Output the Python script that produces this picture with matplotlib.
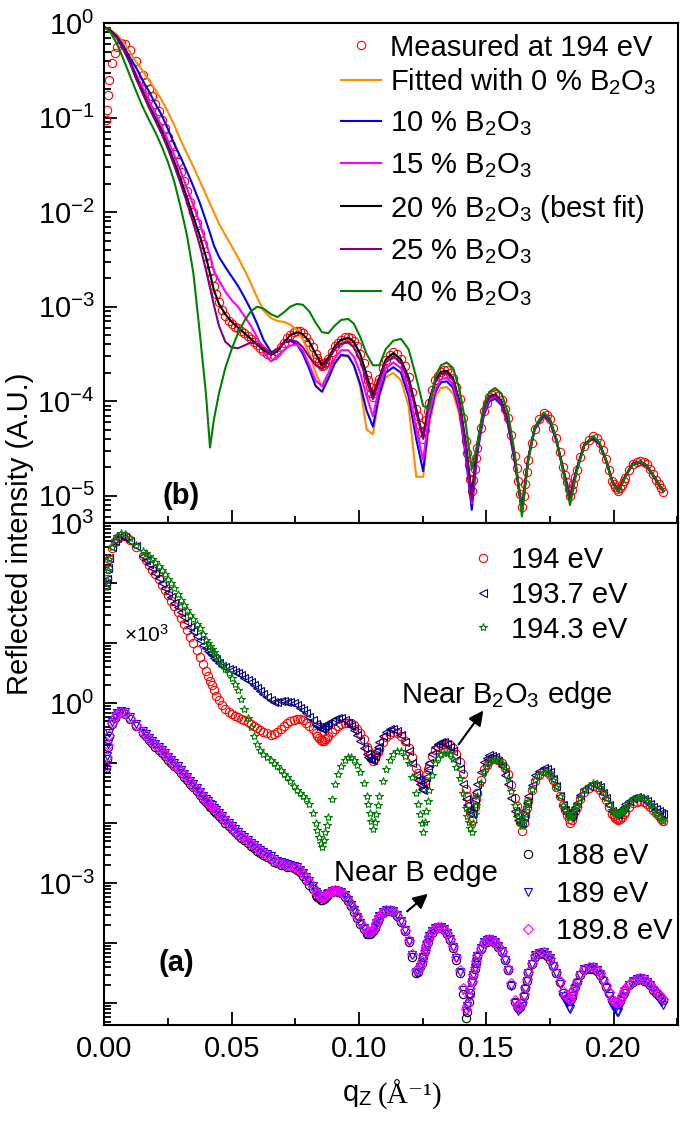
import numpy as np
import matplotlib
matplotlib.use("Agg")
import matplotlib.pyplot as plt
from matplotlib.ticker import LogLocator, FuncFormatter, NullFormatter, MultipleLocator

plt.rcParams["font.family"] = ["Liberation Sans", "DejaVu Sans"]
plt.rcParams["mathtext.fontset"] = "custom"
plt.rcParams["mathtext.rm"] = "Liberation Sans"
plt.rcParams["mathtext.it"] = "Liberation Sans:italic"
plt.rcParams["mathtext.bf"] = "Liberation Sans:bold"

# ---------------------------------------------------------------------------
# Data: q_z (1/Angstrom) and log10 of reflected intensity
# ---------------------------------------------------------------------------
q_fit_head = [0.0, 0.0025, 0.005, 0.0075, 0.01, 0.0125]
q_meas_head = [0.0005, 0.001, 0.0015, 0.002, 0.003, 0.004, 0.005, 0.0065, 0.008, 0.01, 0.0125]
q_tail = [
    0.015, 0.0175, 0.02, 0.0225, 0.025, 0.0275, 0.03, 0.0325, 0.035, 0.0375,
    0.04, 0.0415, 0.043, 0.045, 0.0475, 0.05, 0.0525, 0.055, 0.0575, 0.06,
    0.0625, 0.0655, 0.068, 0.0705, 0.073, 0.0757, 0.078, 0.0805, 0.083, 0.0855,
    0.088, 0.0905, 0.093, 0.0958, 0.098, 0.1005, 0.103, 0.1055, 0.108, 0.1105,
    0.1135, 0.1165, 0.1195, 0.1225, 0.1252, 0.1275, 0.13, 0.1322, 0.1345, 0.137,
    0.1395, 0.142, 0.1443, 0.1465, 0.149, 0.1512, 0.1535, 0.156, 0.1585, 0.1612,
    0.164, 0.1665, 0.169, 0.1725, 0.175, 0.1775, 0.1802, 0.1829, 0.1855, 0.1885,
    0.192, 0.1945, 0.197, 0.1995, 0.2019, 0.2045, 0.2075, 0.2105, 0.213, 0.2155,
    0.2178, 0.2196,
]
# extra sampling positions of the measured scans (between the q_tail points)
q_mid = [
    0.0163, 0.0188, 0.0213, 0.0238, 0.0263, 0.0288, 0.0313, 0.0338, 0.0363, 0.0388,
    0.0408, 0.0423, 0.044, 0.0463, 0.0488, 0.0513, 0.0538, 0.0563, 0.0588, 0.0613,
    0.064, 0.0668, 0.0693, 0.0718, 0.0744, 0.0769, 0.0793, 0.0818, 0.0843, 0.0868,
    0.0893, 0.0918, 0.0944, 0.0969, 0.0993, 0.1018, 0.1043, 0.1068, 0.1093, 0.112,
    0.115, 0.118, 0.121, 0.1239, 0.1264, 0.1288, 0.1311, 0.1334, 0.1358, 0.1383,
    0.1408, 0.1432, 0.1454, 0.1478, 0.1501, 0.1524, 0.1548, 0.1573, 0.1599, 0.1626,
    0.1653, 0.1678, 0.1708, 0.1738, 0.1763, 0.1789, 0.1816, 0.1842, 0.187, 0.1903,
    0.1933, 0.1958, 0.1983, 0.2007, 0.2032, 0.206, 0.209, 0.2118, 0.2143, 0.2167,
    0.2187,
]
# still finer sampling on the flanks of the Kiessig minima
q_flank = [
    0.0837, 0.0849, 0.0862, 0.0874,
    0.1037, 0.1049, 0.1062, 0.1074,
    0.1232, 0.1246, 0.1258, 0.1270,
    0.1426, 0.1438, 0.1449, 0.1460,
    0.1619, 0.1633, 0.1647, 0.1659,
    0.1809, 0.1823, 0.1836, 0.1849,
    0.2001, 0.2013, 0.2026, 0.2039,
]
q_fit = q_fit_head + q_tail
q_meas = q_meas_head + q_tail

# panel (b): measured at 194 eV (also shown x10^3 in panel (a))
meas_194 = [
    -1.02, -0.92, -0.76, -0.60, -0.42, -0.31, -0.25, -0.21, -0.22, -0.28, -0.40,
    -0.55, -0.70, -0.85, -1.02, -1.20, -1.38, -1.57, -1.78, -2.00, -2.22,
    -2.46, -2.62, -2.78, -2.95, -3.10, -3.18, -3.23, -3.28, -3.34, -3.41,
    -3.47, -3.52, -3.48, -3.38, -3.30, -3.26, -3.28, -3.37, -3.50, -3.63,
    -3.55, -3.42, -3.35, -3.32, -3.36, -3.50, -3.72, -3.96, -3.76, -3.56,
    -3.48, -3.55, -3.74, -4.08, -4.40, -4.02, -3.78, -3.69, -3.67, -3.75,
    -3.98, -4.42, -4.95, -4.50, -4.10, -3.96, -3.92, -3.99, -4.18, -4.58,
    -5.12, -4.62, -4.29, -4.13, -4.19, -4.39, -4.70, -5.00, -4.73, -4.47,
    -4.37, -4.44, -4.61, -4.84, -4.95, -4.81, -4.66, -4.63, -4.67, -4.77,
    -4.88, -4.96,
]
meas_194_mid = [
    -0.62, -0.77, -0.93, -1.11, -1.29, -1.47, -1.67, -1.89, -2.11, -2.34,
    -2.54, -2.70, -2.87, -3.03, -3.15, -3.21, -3.26, -3.31, -3.37, -3.44,
    -3.50, -3.51, -3.43, -3.33, -3.27, -3.26, -3.32, -3.43, -3.58, -3.60,
    -3.48, -3.38, -3.32, -3.33, -3.42, -3.60, -3.85, -3.86, -3.65, -3.51,
    -3.50, -3.63, -3.90, -4.25, -4.20, -3.88, -3.73, -3.67, -3.70, -3.85,
    -4.18, -4.68, -4.72, -4.28, -4.02, -3.93, -3.94, -4.08, -4.36, -4.85,
    -4.88, -4.44, -4.19, -4.15, -4.28, -4.54, -4.86, -4.88, -4.59, -4.41,
    -4.39, -4.52, -4.73, -4.91, -4.89, -4.73, -4.64, -4.64, -4.72, -4.83,
    -4.92,
]
meas_194_flank = [
    -3.54, -3.61, -3.62, -3.58,
    -3.78, -3.91, -3.91, -3.81,
    -4.16, -4.33, -4.30, -4.10,
    -4.55, -4.82, -4.83, -4.60,
    -4.71, -4.98, -5.00, -4.75,
    -4.78, -4.93, -4.94, -4.80,
    -4.88, -4.93, -4.92, -4.85,
]
fit_0 = [
    -0.04, -0.07, -0.12, -0.20, -0.30, -0.41,
    -0.50, -0.60, -0.70, -0.81, -0.94, -1.08, -1.24, -1.38, -1.52, -1.67,
    -1.82, -1.91, -2.00, -2.12, -2.24, -2.36, -2.48, -2.61, -2.75, -2.90,
    -3.04, -3.12, -3.15, -3.16, -3.19, -3.25, -3.35, -3.50, -3.70, -3.85,
    -3.72, -3.58, -3.52, -3.53, -3.62, -3.85, -4.30, -4.35, -3.95, -3.75,
    -3.70, -3.78, -4.05, -4.80, -4.80, -4.25, -3.95, -3.86, -3.85, -3.92,
    -4.15, -4.55, -5.00, -4.50, -4.15, -4.00, -3.98, -4.05, -4.25, -4.62,
    -5.10, -4.60, -4.30, -4.17, -4.22, -4.42, -4.72, -5.00, -4.72, -4.47,
    -4.39, -4.46, -4.63, -4.85, -4.94, -4.80, -4.67, -4.65, -4.69, -4.79,
    -4.89, -4.95,
]
fit_10 = [
    -0.04, -0.08, -0.14, -0.24, -0.36, -0.47,
    -0.60, -0.72, -0.85, -0.97, -1.12, -1.28, -1.42, -1.57, -1.73, -1.90,
    -2.10, -2.22, -2.35, -2.47, -2.58, -2.68, -2.78, -2.90, -3.03, -3.18,
    -3.35, -3.48, -3.46, -3.38, -3.36, -3.40, -3.50, -3.66, -3.84, -3.90,
    -3.76, -3.60, -3.51, -3.52, -3.62, -3.82, -4.10, -4.27, -3.93, -3.70,
    -3.64, -3.70, -3.95, -4.40, -4.74, -4.20, -3.90, -3.80, -3.79, -3.86,
    -4.10, -4.60, -5.15, -4.55, -4.15, -4.00, -3.97, -4.04, -4.24, -4.65,
    -5.15, -4.62, -4.30, -4.16, -4.22, -4.42, -4.73, -5.02, -4.73, -4.47,
    -4.39, -4.46, -4.63, -4.85, -4.95, -4.80, -4.67, -4.65, -4.69, -4.79,
    -4.89, -4.95,
]
fit_15 = [
    -0.04, -0.08, -0.15, -0.26, -0.39, -0.54,
    -0.68, -0.82, -0.95, -1.09, -1.24, -1.40, -1.57, -1.75, -1.93, -2.12,
    -2.33, -2.46, -2.62, -2.72, -2.84, -2.93, -3.00, -3.10, -3.20, -3.32,
    -3.48, -3.58, -3.52, -3.46, -3.41, -3.40, -3.47, -3.62, -3.78, -3.84,
    -3.70, -3.55, -3.46, -3.46, -3.53, -3.70, -3.95, -4.16, -3.85, -3.65,
    -3.59, -3.65, -3.88, -4.30, -4.62, -4.15, -3.87, -3.77, -3.75, -3.83,
    -4.07, -4.55, -5.08, -4.50, -4.12, -3.98, -3.95, -4.02, -4.22, -4.62,
    -5.12, -4.61, -4.29, -4.15, -4.21, -4.41, -4.72, -5.00, -4.72, -4.46,
    -4.38, -4.45, -4.62, -4.85, -4.94, -4.80, -4.66, -4.64, -4.68, -4.78,
    -4.88, -4.95,
]
fit_20 = [
    -0.04, -0.08, -0.15, -0.27, -0.40, -0.57,
    -0.72, -0.87, -1.00, -1.14, -1.30, -1.47, -1.65, -1.85, -2.05, -2.25,
    -2.48, -2.65, -2.82, -2.97, -3.08, -3.16, -3.22, -3.28, -3.34, -3.40,
    -3.46, -3.51, -3.47, -3.38, -3.30, -3.27, -3.29, -3.37, -3.50, -3.62,
    -3.54, -3.42, -3.35, -3.33, -3.37, -3.50, -3.72, -3.95, -3.75, -3.56,
    -3.49, -3.56, -3.75, -4.08, -4.39, -4.00, -3.78, -3.69, -3.68, -3.76,
    -4.00, -4.45, -4.99, -4.45, -4.08, -3.95, -3.93, -4.00, -4.20, -4.60,
    -5.17, -4.60, -4.28, -4.14, -4.20, -4.40, -4.72, -5.03, -4.72, -4.46,
    -4.38, -4.45, -4.62, -4.85, -4.95, -4.80, -4.66, -4.64, -4.68, -4.78,
    -4.88, -4.95,
]
fit_25 = [
    -0.04, -0.09, -0.16, -0.28, -0.42, -0.59,
    -0.74, -0.89, -1.03, -1.17, -1.33, -1.51, -1.70, -1.90, -2.12, -2.35,
    -2.62, -2.80, -2.98, -3.20, -3.37, -3.43, -3.44, -3.41, -3.38, -3.39,
    -3.44, -3.50, -3.45, -3.38, -3.35, -3.37, -3.43, -3.53, -3.62, -3.66,
    -3.57, -3.45, -3.39, -3.38, -3.43, -3.57, -3.78, -3.98, -3.78, -3.59,
    -3.53, -3.59, -3.79, -4.12, -4.40, -4.02, -3.80, -3.71, -3.70, -3.78,
    -4.02, -4.48, -5.05, -4.47, -4.09, -3.96, -3.94, -4.01, -4.21, -4.61,
    -5.15, -4.60, -4.28, -4.14, -4.20, -4.40, -4.72, -5.02, -4.72, -4.46,
    -4.38, -4.45, -4.62, -4.85, -4.95, -4.80, -4.66, -4.64, -4.68, -4.78,
    -4.88, -4.95,
]
fit_40 = [
    -0.04, -0.10, -0.22, -0.38, -0.55, -0.72,
    -0.88, -1.02, -1.15, -1.30, -1.47, -1.68, -1.95, -2.25, -2.65, -3.28,
    -3.95, -4.49, -4.20, -3.92, -3.65, -3.45, -3.28, -3.15, -3.05, -3.00,
    -3.02, -3.08, -3.11, -3.06, -3.00, -2.97, -2.98, -3.05, -3.17, -3.27,
    -3.28, -3.20, -3.14, -3.13, -3.18, -3.32, -3.50, -3.62, -3.62, -3.45,
    -3.36, -3.34, -3.45, -3.75, -4.05, -4.08, -3.75, -3.62, -3.59, -3.65,
    -3.88, -4.25, -4.72, -4.45, -4.05, -3.90, -3.86, -3.92, -4.12, -4.55,
    -5.22, -4.62, -4.28, -4.12, -4.18, -4.40, -4.75, -5.10, -4.75, -4.47,
    -4.37, -4.44, -4.62, -4.86, -4.96, -4.81, -4.67, -4.64, -4.68, -4.78,
    -4.88, -4.95,
]

# panel (a), near the B2O3 edge (plotted x10^3)
meas_1937 = [
    -1.00, -0.92, -0.75, -0.58, -0.40, -0.30, -0.25, -0.21, -0.23, -0.29, -0.38,
    -0.55, -0.68, -0.83, -0.99, -1.15, -1.32, -1.48, -1.65, -1.80, -1.95,
    -2.08, -2.16, -2.24, -2.33, -2.40, -2.45, -2.50, -2.57, -2.65, -2.74,
    -2.85, -2.95, -2.97, -2.96, -2.98, -3.03, -3.11, -3.22, -3.35, -3.42,
    -3.33, -3.26, -3.25, -3.32, -3.45, -3.63, -3.85, -3.94, -3.65, -3.47,
    -3.42, -3.52, -3.80, -4.20, -4.45, -4.00, -3.72, -3.64, -3.67, -3.80,
    -4.10, -4.60, -4.85, -4.35, -3.98, -3.86, -3.90, -4.05, -4.35, -4.80,
    -5.00, -4.55, -4.20, -4.07, -4.15, -4.38, -4.70, -4.90, -4.66, -4.42,
    -4.34, -4.40, -4.58, -4.80, -4.84, -4.68, -4.57, -4.57, -4.62, -4.72,
    -4.80, -4.84,
]
meas_1937_mid = [
    -0.61, -0.75, -0.91, -1.07, -1.23, -1.40, -1.56, -1.72, -1.87, -2.02,
    -2.12, -2.20, -2.28, -2.37, -2.43, -2.47, -2.53, -2.61, -2.69, -2.79,
    -2.90, -2.97, -2.96, -2.97, -3.00, -3.07, -3.16, -3.28, -3.40, -3.38,
    -3.29, -3.25, -3.28, -3.38, -3.53, -3.74, -3.92, -3.80, -3.54, -3.43,
    -3.46, -3.65, -4.00, -4.35, -4.22, -3.84, -3.67, -3.64, -3.72, -3.94,
    -4.35, -4.78, -4.60, -4.15, -3.91, -3.87, -3.96, -4.19, -4.58, -4.95,
    -4.78, -4.36, -4.12, -4.10, -4.26, -4.54, -4.83, -4.80, -4.53, -4.37,
    -4.36, -4.49, -4.70, -4.84, -4.76, -4.62, -4.56, -4.59, -4.67, -4.76,
    -4.82,
]
meas_1937_flank = [
    -3.38, -3.41, -3.40, -3.35,
    -3.89, -3.94, -3.87, -3.72,
    -4.28, -4.42, -4.34, -4.10,
    -4.70, -4.83, -4.73, -4.47,
    -4.88, -4.99, -4.90, -4.66,
    -4.77, -4.88, -4.86, -4.73,
    -4.82, -4.85, -4.80, -4.72,
]
meas_1943 = [
    -1.06, -0.95, -0.78, -0.60, -0.40, -0.28, -0.21, -0.17, -0.18, -0.25, -0.36,
    -0.46, -0.55, -0.65, -0.78, -0.92, -1.08, -1.27, -1.45, -1.60, -1.74,
    -1.95, -2.05, -2.15, -2.27, -2.43, -2.58, -2.78, -3.10, -3.40, -3.68,
    -3.84, -3.95, -4.05, -4.17, -4.30, -4.44, -4.55, -4.68, -5.00, -5.40,
    -4.90, -4.35, -4.05, -3.90, -3.95, -4.15, -4.55, -5.10, -4.55, -4.10,
    -3.85, -3.80, -4.00, -4.50, -5.15, -4.45, -4.00, -3.85, -3.82, -3.92,
    -4.25, -4.75, -5.15, -4.55, -4.15, -3.98, -3.94, -4.00, -4.25, -4.70,
    -5.05, -4.62, -4.28, -4.14, -4.18, -4.40, -4.70, -4.90, -4.70, -4.45,
    -4.33, -4.40, -4.58, -4.78, -4.84, -4.72, -4.60, -4.56, -4.62, -4.75,
    -4.88, -4.96,
]
meas_1943_mid = [
    -0.50, -0.60, -0.71, -0.85, -1.00, -1.17, -1.36, -1.53, -1.67, -1.85,
    -2.00, -2.10, -2.21, -2.35, -2.50, -2.67, -2.93, -3.25, -3.55, -3.77,
    -3.90, -4.00, -4.11, -4.23, -4.37, -4.50, -4.60, -4.82, -5.22, -5.15,
    -4.60, -4.18, -3.95, -3.90, -4.03, -4.33, -4.82, -4.85, -4.30, -3.95,
    -3.80, -3.88, -4.22, -4.85, -4.80, -4.20, -3.91, -3.82, -3.85, -4.06,
    -4.50, -4.98, -4.85, -4.33, -4.05, -3.95, -3.95, -4.10, -4.46, -4.90,
    -4.85, -4.43, -4.19, -4.14, -4.27, -4.55, -4.82, -4.82, -4.57, -4.37,
    -4.35, -4.48, -4.68, -4.83, -4.79, -4.65, -4.57, -4.58, -4.68, -4.82,
    -4.92,
]
meas_1943_flank = [
    -5.11, -5.32, -5.28, -5.02,
    -4.68, -4.96, -4.98, -4.70,
    -4.68, -5.00, -4.98, -4.62,
    -4.87, -5.07, -5.00, -4.70,
    -4.80, -4.98, -4.95, -4.73,
    -4.76, -4.87, -4.87, -4.76,
    -4.81, -4.84, -4.82, -4.76,
]
# panel (a), near the B edge
meas_188 = [
    -1.08, -0.93, -0.73, -0.55, -0.35, -0.24, -0.18, -0.15, -0.17, -0.26, -0.38,
    -0.50, -0.61, -0.72, -0.83, -0.94, -1.05, -1.16, -1.28, -1.40, -1.53,
    -1.65, -1.72, -1.79, -1.88, -1.99, -2.10, -2.20, -2.28, -2.37, -2.46,
    -2.53, -2.60, -2.66, -2.70, -2.73, -2.77, -2.88, -3.02, -3.20, -3.28,
    -3.18, -3.13, -3.16, -3.30, -3.48, -3.68, -3.84, -3.80, -3.57, -3.46,
    -3.48, -3.64, -3.98, -4.50, -4.22, -3.90, -3.76, -3.74, -3.84, -4.08,
    -4.50, -5.25, -4.65, -4.22, -4.00, -3.95, -3.99, -4.14, -4.45, -4.97,
    -5.00, -4.50, -4.22, -4.17, -4.27, -4.50, -4.82, -4.95, -4.64, -4.44,
    -4.42, -4.52, -4.72, -4.94, -5.00, -4.77, -4.64, -4.60, -4.65, -4.77,
    -4.87, -4.94,
]
meas_188_mid = [
    -0.55, -0.66, -0.77, -0.88, -0.99, -1.10, -1.22, -1.34, -1.46, -1.59,
    -1.68, -1.75, -1.83, -1.93, -2.04, -2.15, -2.24, -2.32, -2.41, -2.49,
    -2.56, -2.64, -2.69, -2.73, -2.75, -2.81, -2.94, -3.10, -3.25, -3.24,
    -3.15, -3.14, -3.22, -3.38, -3.58, -3.76, -3.84, -3.69, -3.50, -3.46,
    -3.55, -3.80, -4.22, -4.40, -4.04, -3.82, -3.74, -3.78, -3.95, -4.27,
    -4.85, -4.98, -4.42, -4.10, -3.97, -3.96, -4.06, -4.28, -4.69, -5.08,
    -4.74, -4.35, -4.18, -4.21, -4.38, -4.65, -4.92, -4.80, -4.53, -4.42,
    -4.46, -4.61, -4.83, -5.00, -4.88, -4.70, -4.61, -4.62, -4.70, -4.82,
    -4.91,
]
meas_188_flank = [
    -3.23, -3.27, -3.26, -3.21,
    -3.85, -3.83, -3.75, -3.63,
    -4.48, -4.32, -4.13, -3.97,
    -5.15, -4.82, -4.53, -4.32,
    -5.04, -5.06, -4.87, -4.62,
    -4.88, -4.95, -4.88, -4.72,
    -4.98, -5.01, -4.94, -4.82,
]
meas_189 = [
    -1.02, -0.88, -0.68, -0.50, -0.31, -0.21, -0.16, -0.13, -0.15, -0.22, -0.34,
    -0.46, -0.57, -0.67, -0.78, -0.89, -1.00, -1.11, -1.23, -1.35, -1.48,
    -1.60, -1.67, -1.74, -1.83, -1.94, -2.05, -2.15, -2.23, -2.32, -2.41,
    -2.48, -2.55, -2.62, -2.66, -2.69, -2.73, -2.83, -2.96, -3.14, -3.25,
    -3.16, -3.11, -3.14, -3.28, -3.45, -3.66, -3.82, -3.80, -3.55, -3.44,
    -3.46, -3.62, -3.96, -4.48, -4.22, -3.88, -3.74, -3.72, -3.82, -4.06,
    -4.47, -5.12, -4.64, -4.21, -3.98, -3.93, -3.97, -4.13, -4.45, -5.00,
    -5.05, -4.50, -4.20, -4.15, -4.25, -4.50, -4.88, -5.10, -4.66, -4.43,
    -4.40, -4.51, -4.74, -5.02, -5.15, -4.80, -4.63, -4.58, -4.64, -4.78,
    -4.92, -5.02,
]
meas_189_mid = [
    -0.51, -0.62, -0.72, -0.83, -0.94, -1.05, -1.17, -1.29, -1.41, -1.54,
    -1.63, -1.70, -1.78, -1.88, -1.99, -2.10, -2.19, -2.27, -2.36, -2.44,
    -2.51, -2.59, -2.64, -2.68, -2.71, -2.77, -2.89, -3.05, -3.21, -3.21,
    -3.13, -3.12, -3.20, -3.36, -3.56, -3.75, -3.83, -3.66, -3.48, -3.44,
    -3.53, -3.78, -4.20, -4.40, -4.03, -3.80, -3.72, -3.76, -3.93, -4.25,
    -4.78, -4.90, -4.41, -4.08, -3.95, -3.94, -4.05, -4.28, -4.71, -5.12,
    -4.76, -4.34, -4.16, -4.19, -4.37, -4.68, -5.00, -4.87, -4.53, -4.41,
    -4.45, -4.62, -4.88, -5.10, -4.96, -4.70, -4.59, -4.60, -4.70, -4.85,
    -4.98,
]
meas_189_flank = [
    -3.18, -3.23, -3.23, -3.18,
    -3.83, -3.82, -3.73, -3.60,
    -4.47, -4.31, -4.12, -3.95,
    -5.04, -4.77, -4.52, -4.31,
    -5.08, -5.10, -4.90, -4.63,
    -4.95, -5.07, -4.98, -4.76,
    -5.07, -5.14, -5.05, -4.88,
]
meas_1898 = [
    -1.05, -0.90, -0.70, -0.52, -0.33, -0.22, -0.17, -0.14, -0.16, -0.24, -0.36,
    -0.48, -0.59, -0.69, -0.80, -0.91, -1.02, -1.13, -1.25, -1.37, -1.50,
    -1.62, -1.69, -1.76, -1.85, -1.96, -2.07, -2.17, -2.25, -2.34, -2.43,
    -2.50, -2.57, -2.64, -2.68, -2.71, -2.74, -2.84, -2.97, -3.15, -3.25,
    -3.16, -3.11, -3.14, -3.28, -3.45, -3.65, -3.80, -3.78, -3.55, -3.44,
    -3.46, -3.62, -3.95, -4.45, -4.20, -3.88, -3.74, -3.72, -3.82, -4.05,
    -4.45, -5.10, -4.62, -4.20, -3.98, -3.93, -3.97, -4.12, -4.42, -4.95,
    -4.98, -4.48, -4.20, -4.15, -4.25, -4.48, -4.80, -4.93, -4.62, -4.42,
    -4.40, -4.50, -4.70, -4.92, -4.98, -4.75, -4.62, -4.58, -4.63, -4.75,
    -4.85, -4.92,
]
meas_1898_mid = [
    -0.53, -0.64, -0.74, -0.85, -0.96, -1.07, -1.19, -1.31, -1.43, -1.56,
    -1.65, -1.72, -1.80, -1.90, -2.01, -2.12, -2.21, -2.29, -2.38, -2.46,
    -2.53, -2.61, -2.66, -2.70, -2.72, -2.78, -2.90, -3.06, -3.21, -3.21,
    -3.13, -3.12, -3.20, -3.36, -3.55, -3.73, -3.81, -3.66, -3.48, -3.44,
    -3.53, -3.77, -4.18, -4.38, -4.02, -3.80, -3.72, -3.76, -3.92, -4.23,
    -4.75, -4.88, -4.40, -4.08, -3.95, -3.94, -4.04, -4.26, -4.66, -5.06,
    -4.72, -4.33, -4.16, -4.19, -4.36, -4.63, -4.90, -4.78, -4.51, -4.40,
    -4.44, -4.59, -4.81, -4.98, -4.86, -4.68, -4.59, -4.60, -4.68, -4.80,
    -4.89,
]
meas_1898_flank = [
    -3.18, -3.23, -3.23, -3.18,
    -3.81, -3.80, -3.72, -3.60,
    -4.45, -4.30, -4.11, -3.95,
    -5.02, -4.75, -4.51, -4.30,
    -5.02, -5.04, -4.85, -4.60,
    -4.86, -4.93, -4.86, -4.70,
    -4.96, -4.99, -4.92, -4.80,
]

SHIFT = 1e3   # offset applied to the near-B2O3-edge group in panel (a)
FS = 21


def lin(logs, scale=1.0):
    return scale * 10.0 ** np.asarray(logs)


def scan(main, mid, flank, scale=1.0):
    return q_meas + q_mid + q_flank, lin(main + mid + flank, scale)


def decade_label(keep):
    def fmt(v, pos):
        e = int(round(np.log10(v)))
        if keep is None or e in keep:
            return r"$\mathregular{10^{%d}}$" % e
        return ""
    return FuncFormatter(fmt)


def style_axis(ax, ylim, keep):
    ax.set_xlim(0, 0.2253)
    ax.set_yscale("log")
    ax.set_ylim(*ylim)
    ax.xaxis.set_major_locator(MultipleLocator(0.05))
    ax.xaxis.set_minor_locator(MultipleLocator(0.025))
    ax.yaxis.set_major_locator(LogLocator(base=10, numticks=20))
    ax.yaxis.set_minor_locator(LogLocator(base=10, subs=np.arange(2, 10), numticks=20))
    ax.yaxis.set_major_formatter(decade_label(keep))
    ax.yaxis.set_minor_formatter(NullFormatter())
    ax.tick_params(which="both", direction="in", top=False, right=False,
                   width=1.3, labelsize=FS)
    ax.tick_params(which="major", length=9.5, pad=7)
    ax.tick_params(which="minor", length=5)
    for s in ax.spines.values():
        s.set_linewidth(1.5)


fig = plt.figure(figsize=(6.85, 11.21), dpi=100)
ax_b = fig.add_axes([0.1523, 0.5332, 0.8375, 0.4460])
ax_a = fig.add_axes([0.1523, 0.0852, 0.8375, 0.4480])

# ----- panel (b) -----
mk = dict(ls="none", mfc="none", ms=6, mew=0.8)
h_meas, = ax_b.plot(*scan(meas_194, meas_194_mid, meas_194_flank), "o",
                    mec="red", **mk)
fits = [
    (fit_0, "#FF8C00", "Fitted with 0 % B$_2$O$_3$"),
    (fit_10, "#0000EE", "10 % B$_2$O$_3$"),
    (fit_15, "#FF00FF", "15 % B$_2$O$_3$"),
    (fit_20, "#000000", "20 % B$_2$O$_3$ (best fit)"),
    (fit_25, "#800080", "25 % B$_2$O$_3$"),
    (fit_40, "#008000", "40 % B$_2$O$_3$"),
]
fit_handles, fit_labels = [], []
for vals, col, lab in fits:
    h, = ax_b.plot(q_fit, lin(vals), color=col, lw=1.5)
    fit_handles.append(h)
    fit_labels.append(lab)

style_axis(ax_b, (5.1e-6, 1.0), None)
ax_b.tick_params(labelbottom=False)
top_kw = dict(frameon=False, fontsize=FS, handlelength=1.37, handletextpad=0.3,
              borderpad=0, borderaxespad=0, numpoints=1, loc="upper left")
leg_m = ax_b.legend([h_meas], ["Measured at 194 eV"],
                    bbox_to_anchor=(0.4126, 0.9796), **top_kw)
ax_b.add_artist(leg_m)
ax_b.legend(fit_handles, fit_labels, bbox_to_anchor=(0.4126, 0.9152),
            labelspacing=0.44, **top_kw)
ax_b.text(0.030, 1.0e-5, "(b)", fontsize=FS, fontweight="bold",
          ha="center", va="center")

# ----- panel (a) -----
h1, = ax_a.plot(*scan(meas_194, meas_194_mid, meas_194_flank, SHIFT), "o",
                mec="red", **mk)
h2, = ax_a.plot(*scan(meas_1937, meas_1937_mid, meas_1937_flank, SHIFT), "<",
                mec="#000080", **mk)
h3, = ax_a.plot(*scan(meas_1943, meas_1943_mid, meas_1943_flank, SHIFT), "*",
                mec="#008000", **mk)
h4, = ax_a.plot(*scan(meas_188, meas_188_mid, meas_188_flank), "o",
                mec="black", **mk)
h5, = ax_a.plot(*scan(meas_189, meas_189_mid, meas_189_flank), "v",
                mec="#0000FF", **mk)
h6, = ax_a.plot(*scan(meas_1898, meas_1898_mid, meas_1898_flank), "D",
                mec="#FF00FF", ls="none", mfc="none", ms=5, mew=0.8)

style_axis(ax_a, (4.3e-6, 1.0e3), (3, 0, -3))

leg_kw = dict(frameon=False, fontsize=FS, handlelength=1.0, handletextpad=0.45,
              borderpad=0, borderaxespad=0, numpoints=1, loc="upper left")
leg1 = ax_a.legend([h1, h2, h3], ["194 eV", "193.7 eV", "194.3 eV"],
                   bbox_to_anchor=(0.6347, 0.9542), labelspacing=0.23, **leg_kw)
ax_a.add_artist(leg1)
ax_a.legend([h4, h5, h6], ["188 eV", "189 eV", "189.8 eV"],
            bbox_to_anchor=(0.7136, 0.3644), labelspacing=0.32, **leg_kw)

ax_a.text(0.0164, 14, "×10$^3$", fontsize=15, ha="center", va="center")
ax_a.text(0.158, 1.38, "Near B$_2$O$_3$ edge", fontsize=FS, ha="center", va="center")
ax_a.annotate("", xy=(0.1495, 0.83), xytext=(0.1385, 0.19),
              arrowprops=dict(arrowstyle="-|>", color="black", lw=1.5,
                              mutation_scale=22))
ax_a.text(0.1224, 1.5e-3, "Near B edge", fontsize=FS, ha="center", va="center")
ax_a.annotate("", xy=(0.1279, 7.2e-4), xytext=(0.1181, 3.2e-4),
              arrowprops=dict(arrowstyle="-|>", color="black", lw=1.5,
                              mutation_scale=22))
ax_a.text(0.0282, 4.7e-5, "(a)", fontsize=FS, fontweight="bold",
          ha="center", va="center")

# axis titles
fig.text(0.029, 0.524, "Reflected intensity (A.U.)", rotation=90, fontsize=FS,
         ha="center", va="center")
fig.text(0.543, 0.0232, r"q$_{\rm Z}$", fontsize=FS, ha="right", va="center")
fig.text(0.552, 0.0232, "(Å⁻¹)", fontsize=FS, ha="left", va="center",
         family=["Liberation Serif", "DejaVu Serif"])

fig.savefig("out.png", dpi=100)
